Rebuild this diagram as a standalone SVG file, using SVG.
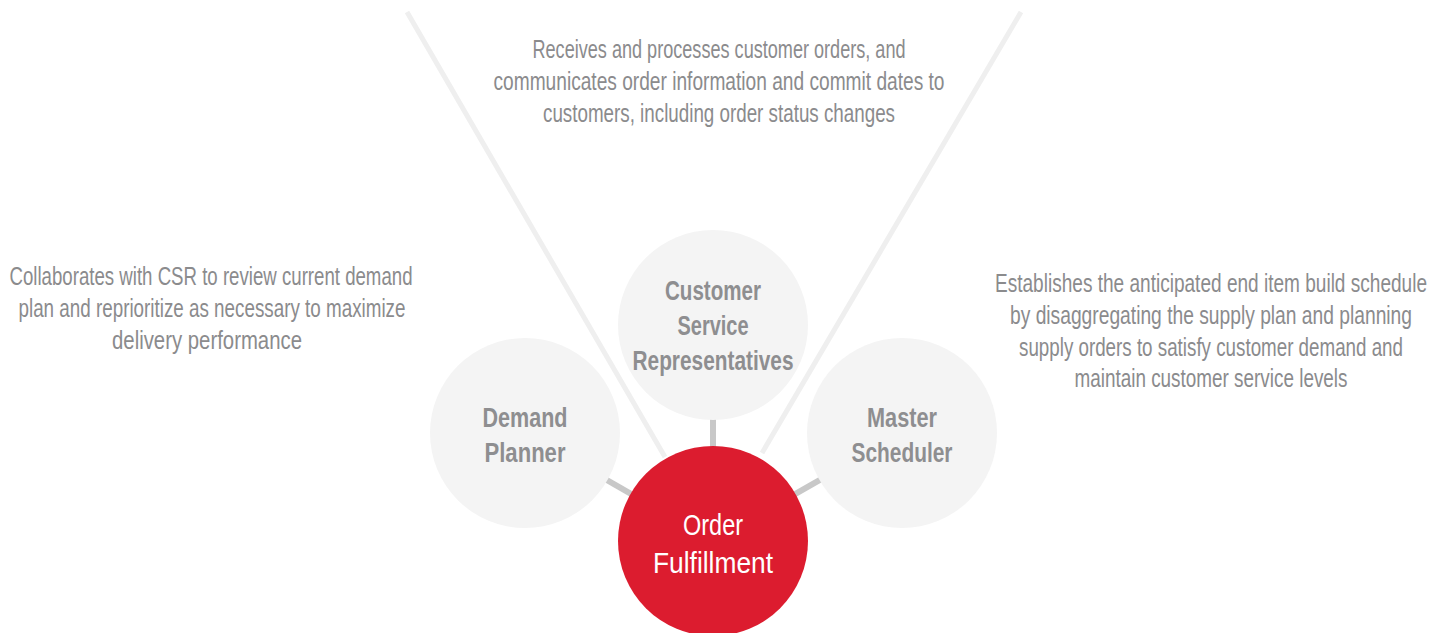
<svg xmlns="http://www.w3.org/2000/svg" width="1443" height="633" viewBox="0 0 1443 633">
<style>
.desc{font-family:"Liberation Sans Narrow","Liberation Sans",sans-serif;font-size:25px;fill:#8b8b8d;text-anchor:middle}
.lbl{font-family:"Liberation Sans Narrow","Liberation Sans",sans-serif;font-size:27px;font-weight:bold;fill:#8e8e90;text-anchor:middle}
.main{font-family:"Liberation Sans Narrow","Liberation Sans",sans-serif;font-size:30px;fill:#ffffff;text-anchor:middle}
.bubble{fill:#f4f4f4}
.guide{stroke:#efefef;stroke-width:5;fill:none}
.link{stroke:#c8c8c8;stroke-width:6;fill:none}
</style>
<rect width="1443" height="633" fill="#ffffff"/>
<g id="connectors">
<line class="guide" x1="407" y1="12" x2="665" y2="457"/>
<line class="guide" x1="1021" y1="12" x2="762" y2="453"/>
<line class="link" x1="713" y1="325" x2="713" y2="541"/>
<line class="link" x1="525" y1="433" x2="713" y2="541"/>
<line class="link" x1="902" y1="433" x2="713" y2="541"/>
</g>
<g id="desc-csr">
<text class="desc" x="719" y="58" textLength="373" lengthAdjust="spacingAndGlyphs">Receives and processes customer orders, and</text>
<text class="desc" x="719" y="90" textLength="451" lengthAdjust="spacingAndGlyphs">communicates order information and commit dates to</text>
<text class="desc" x="719" y="122" textLength="352" lengthAdjust="spacingAndGlyphs">customers, including order status changes</text>
</g>
<g id="desc-demand">
<text class="desc" x="211" y="285" textLength="403" lengthAdjust="spacingAndGlyphs">Collaborates with CSR to review current demand</text>
<text class="desc" x="212" y="317" textLength="387" lengthAdjust="spacingAndGlyphs">plan and reprioritize as necessary to maximize</text>
<text class="desc" x="207" y="349" textLength="190" lengthAdjust="spacingAndGlyphs">delivery performance</text>
</g>
<g id="desc-master">
<text class="desc" x="1211" y="292" textLength="432" lengthAdjust="spacingAndGlyphs">Establishes the anticipated end item build schedule</text>
<text class="desc" x="1211" y="324" textLength="402" lengthAdjust="spacingAndGlyphs">by disaggregating the supply plan and planning</text>
<text class="desc" x="1211" y="356" textLength="384" lengthAdjust="spacingAndGlyphs">supply orders to satisfy customer demand and</text>
<text class="desc" x="1211" y="387" textLength="273" lengthAdjust="spacingAndGlyphs">maintain customer service levels</text>
</g>
<g id="node-csr">
<circle class="bubble" cx="713" cy="325" r="95"/>
<text class="lbl" x="713" y="300" textLength="96" lengthAdjust="spacingAndGlyphs">Customer</text>
<text class="lbl" x="713" y="335" textLength="71" lengthAdjust="spacingAndGlyphs">Service</text>
<text class="lbl" x="713" y="370" textLength="161" lengthAdjust="spacingAndGlyphs">Representatives</text>
</g>
<g id="node-demand">
<circle class="bubble" cx="525" cy="433" r="95"/>
<text class="lbl" x="525" y="427" textLength="85" lengthAdjust="spacingAndGlyphs">Demand</text>
<text class="lbl" x="525" y="462" textLength="81" lengthAdjust="spacingAndGlyphs">Planner</text>
</g>
<g id="node-master">
<circle class="bubble" cx="902" cy="433" r="95"/>
<text class="lbl" x="902" y="427" textLength="70" lengthAdjust="spacingAndGlyphs">Master</text>
<text class="lbl" x="902" y="462" textLength="101" lengthAdjust="spacingAndGlyphs">Scheduler</text>
</g>
<g id="node-order">
<circle cx="713" cy="541" r="95" fill="#dc1c2f"/>
<text class="main" x="713" y="535" textLength="60" lengthAdjust="spacingAndGlyphs">Order</text>
<text class="main" x="713" y="573" textLength="120" lengthAdjust="spacingAndGlyphs">Fulfillment</text>
</g>
</svg>
